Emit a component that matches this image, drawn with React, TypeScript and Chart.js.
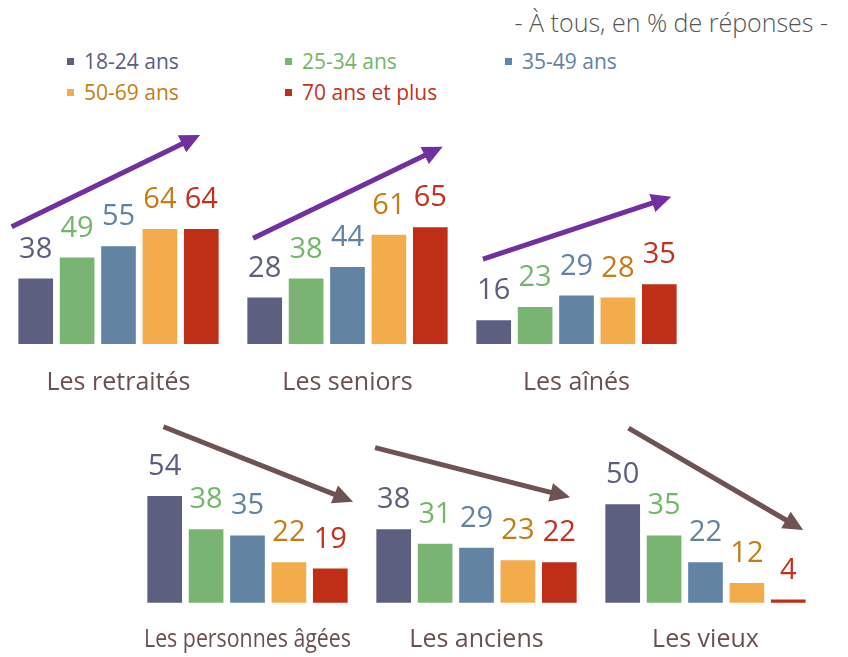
import React, { useEffect, useRef } from "react";
import { Chart, registerables } from "chart.js";

Chart.register(...registerables);

// ---------- DATA ----------
const ageGroups = ["18-24 ans", "25-34 ans", "35-49 ans", "50-69 ans", "70 ans et plus"];
const terms = ["Les retraités", "Les seniors", "Les aînés", "Les personnes âgées", "Les anciens", "Les vieux"];
const v18_24 = [38, 28, 16, 54, 38, 50];
const v25_34 = [49, 38, 23, 38, 31, 35];
const v35_49 = [55, 44, 29, 35, 29, 22];
const v50_69 = [64, 61, 28, 22, 23, 12];
const v70plus = [64, 65, 35, 19, 22, 4];
const seriesValues = [v18_24, v25_34, v35_49, v50_69, v70plus];
const subtitle = "- À tous, en % de réponses -";

// trend arrows (annotation, in each panel's own data units: [fromIndex, fromValue, toIndex, toValue])
const arrowFromIndex = [-0.58, -0.28, -0.26, -0.03, -0.45, 0.14];
const arrowFromValue = [64.7, 58.6, 47.7, 87, 76.9, 86.3];
const arrowToIndex = [3.97, 4.3, 4.29, 4.55, 4.26, 4.36];
const arrowToValue = [113, 106.8, 80.5, 50.8, 52.9, 37.1];

// ---------- STYLE / LAYOUT ----------
const barColors = ["#5c5f80", "#79b472", "#6383a3", "#f2ac4b", "#bf2e16"];
const textColors = ["#5b5e7f", "#74b66c", "#6282a2", "#c47d12", "#c4301c"];
const upColor = "#7030a0";
const downColor = "#6e5353";
const labelColor = "#6b5050";
const FONT = "'Open Sans', 'Noto Sans', sans-serif";

const AREA_W = 207;
const SIDE = 14;
const rows = [
  { canvasTop: 110, canvasBottom: 410, baseline: 344, pxPerUnit: 1.9, yMin: 3, labelCenter: 383 },
  { canvasTop: 415, canvasBottom: 657, baseline: 602.7, pxPerUnit: 2.07, yMin: 2, labelCenter: 640 },
];
const panelLefts = [15, 244, 472.7, 144.4, 373, 601.9];
const panelRow = [0, 0, 0, 1, 1, 1];

const TITLE_SIZE = 25;
const TITLE_LH = 1.2;

function Panel({ idx }: { idx: number }) {
  const ref = useRef<HTMLCanvasElement | null>(null);
  const row = rows[panelRow[idx]];
  const chartLeft = panelLefts[idx];
  const canvasLeft = chartLeft - SIDE;
  const width = AREA_W + 2 * SIDE;
  const height = row.canvasBottom - row.canvasTop;
  const yMax = row.yMin + (row.baseline - row.canvasTop) / row.pxPerUnit;
  const titlePadTop = row.labelCenter - row.baseline - (TITLE_SIZE * TITLE_LH) / 2;
  const padBottom = row.canvasBottom - row.baseline - titlePadTop - TITLE_SIZE * TITLE_LH;
  const values = seriesValues.map((s) => s[idx]);
  const up = idx < 3;

  useEffect(() => {
    if (!ref.current) return;
    const valueLabels = {
      id: "valueLabels",
      afterDatasetsDraw(chart: any) {
        const ctx = chart.ctx;
        const meta = chart.getDatasetMeta(0);
        ctx.save();
        ctx.font = `400 29px ${FONT}`;
        ctx.textAlign = "center";
        ctx.textBaseline = "alphabetic";
        meta.data.forEach((bar: any, i: number) => {
          ctx.fillStyle = textColors[i];
          ctx.fillText(String(values[i]), bar.x, bar.y - 20);
        });
        ctx.restore();
      },
    };
    const trendArrow = {
      id: "trendArrow",
      afterDraw(chart: any) {
        const ctx = chart.ctx;
        const xs = chart.scales.x;
        const ys = chart.scales.y;
        const x1 = xs.getPixelForValue(arrowFromIndex[idx]);
        const y1 = ys.getPixelForValue(arrowFromValue[idx]);
        const x2 = xs.getPixelForValue(arrowToIndex[idx]);
        const y2 = ys.getPixelForValue(arrowToValue[idx]);
        const ang = Math.atan2(y2 - y1, x2 - x1);
        const head = 20;
        const half = 9.5;
        const bx = x2 - head * Math.cos(ang);
        const by = y2 - head * Math.sin(ang);
        const color = up ? upColor : downColor;
        ctx.save();
        ctx.strokeStyle = color;
        ctx.fillStyle = color;
        ctx.lineWidth = 5;
        ctx.lineCap = "butt";
        ctx.beginPath();
        ctx.moveTo(x1, y1);
        ctx.lineTo(bx + 2 * Math.cos(ang), by + 2 * Math.sin(ang));
        ctx.stroke();
        ctx.beginPath();
        ctx.moveTo(x2, y2);
        ctx.lineTo(bx + half * Math.sin(ang), by - half * Math.cos(ang));
        ctx.lineTo(bx - half * Math.sin(ang), by + half * Math.cos(ang));
        ctx.closePath();
        ctx.fill();
        ctx.restore();
      },
    };
    const chart = new Chart(ref.current, {
      type: "bar",
      data: {
        labels: ageGroups,
        datasets: [
          {
            label: terms[idx],
            data: values,
            backgroundColor: barColors,
            borderColor: "rgba(255,255,255,0.45)",
            borderWidth: 1,
            categoryPercentage: 1,
            barPercentage: 0.886,
          },
        ],
      },
      options: {
        responsive: false,
        animation: false,
        devicePixelRatio: 1,
        layout: { padding: { left: SIDE, right: SIDE, top: 0, bottom: padBottom } },
        plugins: { legend: { display: false }, tooltip: { enabled: false } },
        scales: {
          x: {
            display: true,
            grid: { display: false, drawTicks: false },
            border: { display: false },
            ticks: { display: false },
            title: {
              display: true,
              text: terms[idx],
              color: labelColor,
              font: { family: FONT, size: TITLE_SIZE, lineHeight: TITLE_LH },
              padding: { top: titlePadTop, bottom: 0 },
            },
          },
          y: {
            display: false,
            min: row.yMin,
            max: yMax,
          },
        },
      },
      plugins: [valueLabels, trendArrow],
    });
    return () => chart.destroy();
  }, [idx]);

  return (
    <canvas
      ref={ref}
      width={width}
      height={height}
      style={{ position: "absolute", left: canvasLeft, top: row.canvasTop, width, height }}
    />
  );
}

const legendPos = [
  { x: 67, y: 61 },
  { x: 285, y: 61 },
  { x: 505, y: 61 },
  { x: 67, y: 92 },
  { x: 285, y: 92 },
];

export default function App() {
  return (
    <div
      style={{
        position: "absolute",
        left: 0,
        top: 0,
        width: 848,
        height: 657,
        background: "#ffffff",
        overflow: "hidden",
        fontFamily: FONT,
      }}
    >
      <div
        style={{
          position: "absolute",
          right: 20,
          top: 4,
          fontSize: 25,
          fontWeight: 300,
          color: "#555555",
          lineHeight: "36px",
          whiteSpace: "nowrap",
        }}
      >
        {subtitle}
      </div>
      {ageGroups.map((g, i) => (
        <div
          key={g}
          style={{
            position: "absolute",
            left: legendPos[i].x,
            top: legendPos[i].y - 15,
            height: 30,
            display: "flex",
            alignItems: "center",
            whiteSpace: "nowrap",
          }}
        >
          <span style={{ display: "inline-block", width: 7, height: 7, background: barColors[i], marginRight: 10 }} />
          <span style={{ fontSize: 21, color: textColors[i], lineHeight: "30px" }}>{g}</span>
        </div>
      ))}
      {terms.map((t, i) => (
        <Panel key={t} idx={i} />
      ))}
    </div>
  );
}
